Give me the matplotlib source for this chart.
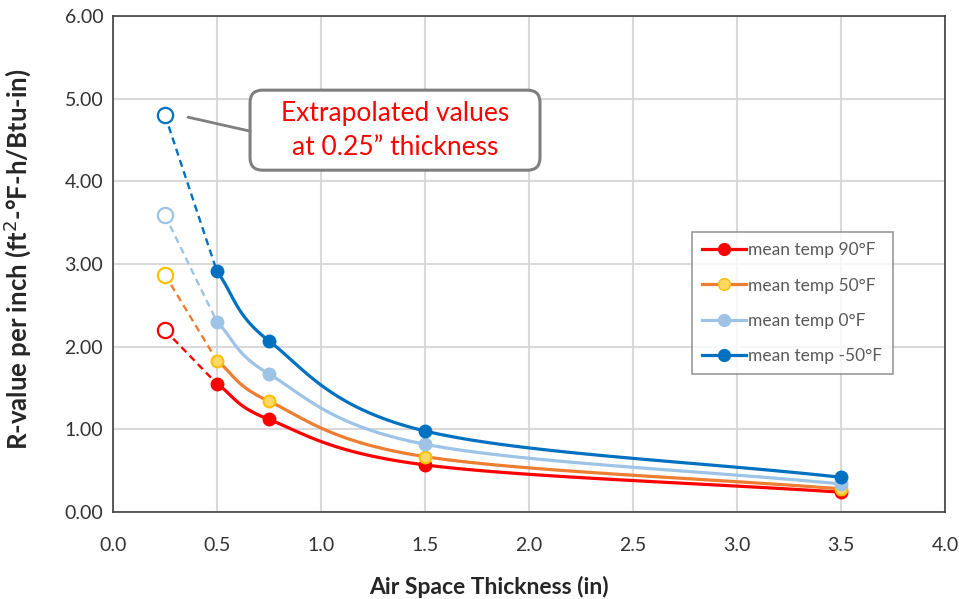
import numpy as np
import matplotlib
matplotlib.use("Agg")
import matplotlib.pyplot as plt
from matplotlib.patches import FancyBboxPatch

plt.rcParams['font.family'] = ['Lato', 'DejaVu Sans']

# data
thickness = [0.5, 0.75, 1.5, 3.5]
extrap_x = 0.25
labels = ["mean temp 90°F", "mean temp 50°F", "mean temp 0°F", "mean temp -50°F"]
r_90 = [1.55, 1.12, 0.57, 0.24]
r_50 = [1.83, 1.34, 0.67, 0.28]
r_0 = [2.30, 1.67, 0.82, 0.34]
r_m50 = [2.91, 2.07, 0.98, 0.42]
extrap_vals = [2.20, 2.87, 3.59, 4.80]

series = [r_90, r_50, r_0, r_m50]
line_colors = ["#FF0000", "#ED7D31", "#9DC3E6", "#0070C0"]
face_colors = ["#FF0000", "#FFD966", "#9DC3E6", "#0070C0"]
edge_colors = ["#FF0000", "#FFC000", "#9DC3E6", "#0070C0"]


# Excel-style smoothed line (Catmull-Rom through the points)
def smooth(xs, ys, n=40):
    xs, ys = np.asarray(xs, float), np.asarray(ys, float)
    px = np.concatenate([[2 * xs[0] - xs[1]], xs, [2 * xs[-1] - xs[-2]]])
    py = np.concatenate([[2 * ys[0] - ys[1]], ys, [2 * ys[-1] - ys[-2]]])
    out_x, out_y = [], []
    t = np.linspace(0, 1, n)
    for i in range(1, len(px) - 2):
        p0, p1, p2, p3 = [np.array([px[j], py[j]]) for j in range(i - 1, i + 3)]
        b1 = p1 + (p2 - p0) / 6
        b2 = p2 - (p3 - p1) / 6
        pts = ((1 - t) ** 3)[:, None] * p1 + (3 * (1 - t) ** 2 * t)[:, None] * b1 \
            + (3 * (1 - t) * t ** 2)[:, None] * b2 + (t ** 3)[:, None] * p2
        out_x.extend(pts[:, 0])
        out_y.extend(pts[:, 1])
    return out_x, out_y


fig = plt.figure(figsize=(9.59, 5.99), dpi=100)
ax = fig.add_axes([0.1178, 0.1452, 0.8676, 0.8281])

for ys, lab, lc, fc, ec, ev in zip(series, labels, line_colors, face_colors, edge_colors, extrap_vals):
    sx, sy = smooth(thickness, ys)
    ax.plot(sx, sy, color=lc, lw=2.3, zorder=3)
    ax.plot(thickness, ys, ls="none", marker="o", ms=8.5, mfc=fc, mec=ec, mew=1.5, zorder=4)
    ax.plot([], [], color=lc, lw=2.3, marker="o", ms=8.5, mfc=fc, mec=ec, label=lab)
    ax.plot([extrap_x, thickness[0]], [ev, ys[0]], color=lc, lw=1.7, ls=(0, (3, 2)), zorder=2)
    ax.plot([extrap_x], [ev], ls="none", marker="o", ms=11, mfc="white", mec=ec, mew=1.6, zorder=4)

ax.set_xlim(0, 4.0)
ax.set_ylim(0, 6.0)
ax.set_xticks(np.arange(0, 4.01, 0.5))
ax.set_yticks(np.arange(0, 6.01, 1.0))
ax.xaxis.set_major_formatter(matplotlib.ticker.FormatStrFormatter("%.1f"))
ax.yaxis.set_major_formatter(matplotlib.ticker.FormatStrFormatter("%.2f"))
ax.tick_params(length=0, labelsize=14, colors="#333333")
ax.tick_params(axis="x", pad=18)
ax.tick_params(axis="y", pad=7)
ax.grid(True, color="#D9D9D9", lw=1.5)
ax.set_axisbelow(True)
for s in ax.spines.values():
    s.set_color("#404040")
    s.set_linewidth(1.2)

ax.set_xlabel("Air Space Thickness (in)", fontsize=16.5, fontweight="bold", color="#262626")
ax.xaxis.set_label_coords(0.452, -0.129)
ax.set_ylabel("R-value per inch (ft$^2$-°F-h/Btu-in)", fontsize=18.5, fontweight="bold",
              color="#262626")
ax.yaxis.set_label_coords(-0.096, 0.51)

leg = ax.legend(loc="upper left", bbox_to_anchor=(0.696, 0.5645), fontsize=12.5, frameon=True,
                fancybox=False, edgecolor="#808080", labelcolor="#595959",
                handlelength=2.5, handletextpad=0.15, borderpad=0.6, labelspacing=1.1,
                borderaxespad=0)
leg.get_frame().set_linewidth(1.2)

# callout box
box = FancyBboxPatch((0.659, 4.135), 2.053 - 0.659, 5.103 - 4.135,
                     boxstyle="round,pad=0,rounding_size=0.06", mutation_aspect=208 / 82.7,
                     fc="white", ec="#7F7F7F", lw=2.2, zorder=5)
ax.add_patch(box)
ax.text(1.356, 4.62, "Extrapolated values\nat 0.25\u201d thickness", ha="center", va="center",
        fontsize=19, color="#FF0000", linespacing=1.45, zorder=6)
ax.annotate("", xy=(0.361, 4.776), xytext=(0.659, 4.607),
            arrowprops=dict(arrowstyle="-", color="#7F7F7F", lw=2, shrinkA=0, shrinkB=0),
            zorder=5)

fig.savefig("out.png", dpi=100)
